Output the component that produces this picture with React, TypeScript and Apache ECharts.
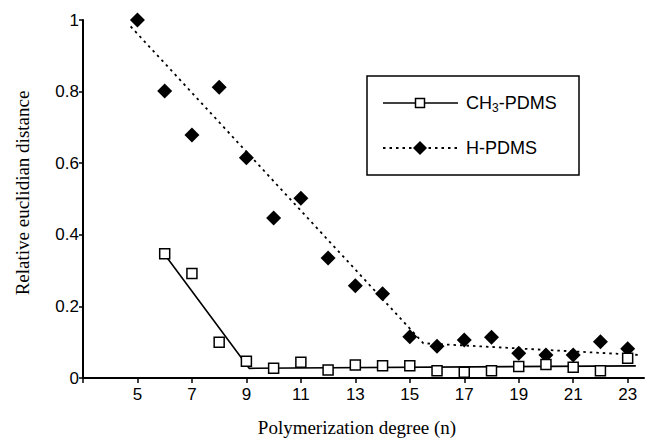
import React, { useEffect, useRef } from "react";
import * as echarts from "echarts";

// Polymerization degree (n)
const ch3Degrees = [6, 7, 8, 9, 10, 11, 12, 13, 14, 15, 16, 17, 18, 19, 20, 21, 22, 23];
const ch3Values = [0.347, 0.292, 0.1, 0.047, 0.027, 0.044, 0.022, 0.036, 0.034, 0.034, 0.02, 0.016, 0.02, 0.032, 0.038, 0.03, 0.02, 0.055];
const hDegrees = [5, 6, 7, 8, 9, 10, 11, 12, 13, 14, 15, 16, 17, 18, 19, 20, 21, 22, 23];
const hValues = [1.0, 0.802, 0.679, 0.812, 0.615, 0.447, 0.502, 0.335, 0.258, 0.235, 0.115, 0.089, 0.106, 0.114, 0.069, 0.064, 0.064, 0.101, 0.082];

// piecewise trend lines
const ch3TrendX = [6, 9.1, 23.3];
const ch3TrendY = [0.345, 0.027, 0.034];
const hTrendX = [4.75, 15.5, 23.5];
const hTrendY = [0.982, 0.097, 0.064];

const yTicks = [0, 0.2, 0.4, 0.6, 0.8, 1];

const pairs = (xs: number[], ys: number[]) => xs.map((x, i) => [x, ys[i]]);

export default function App() {
  const ref = useRef<HTMLDivElement>(null);
  useEffect(() => {
    document.body.style.margin = "0";
    const chart = echarts.init(ref.current!, null, { renderer: "svg" });
    const sans = "Liberation Sans, Arial, sans-serif";
    const serif = "Liberation Serif, Times New Roman, serif";
    chart.setOption({
      animation: false,
      backgroundColor: "#fff",
      grid: { left: 83, right: 1, top: 20, bottom: 63 },
      xAxis: {
        type: "value",
        min: 3,
        max: 23.6,
        interval: 2,
        axisLine: { lineStyle: { color: "#000", width: 2 } },
        axisTick: { show: true, length: 5, lineStyle: { color: "#000", width: 1.5 } },
        axisLabel: {
          color: "#000",
          fontFamily: sans,
          fontSize: 17,
          margin: 8,
          showMaxLabel: false,
          formatter: (v: number) => (v === 3 ? "" : String(v)),
        },
        splitLine: { show: false },
      },
      yAxis: {
        type: "value",
        min: 0,
        max: 1,
        interval: 0.2,
        axisLine: { show: true, lineStyle: { color: "#000", width: 2 } },
        axisTick: { show: true, length: 4, lineStyle: { color: "#000", width: 1.5 } },
        axisLabel: {
          color: "#000",
          fontFamily: sans,
          fontSize: 17,
          margin: 4,
          formatter: (v: number) => {
            const t = yTicks.find((k) => Math.abs(k - v) < 1e-9);
            if (t === undefined) return "";
            return t === 0 || t === 1 ? String(t) : t.toFixed(1);
          },
        },
        splitLine: { show: false },
      },
      series: [
        {
          type: "line",
          data: pairs(hTrendX, hTrendY),
          showSymbol: false,
          symbol: "none",
          lineStyle: { color: "#000", width: 1.8, type: [2.5, 4] },
          z: 1,
        },
        {
          type: "line",
          data: pairs(ch3TrendX, ch3TrendY),
          showSymbol: false,
          symbol: "none",
          lineStyle: { color: "#000", width: 1.6, type: "solid" },
          z: 1,
        },
        {
          type: "scatter",
          data: pairs(hDegrees, hValues),
          symbol: "diamond",
          symbolSize: [15, 15],
          itemStyle: { color: "#000", opacity: 1 },
          z: 3,
        },
        {
          type: "scatter",
          data: pairs(ch3Degrees, ch3Values),
          symbol: "rect",
          symbolSize: 10,
          itemStyle: { color: "#fff", borderColor: "#000", borderWidth: 1.5, opacity: 1 },
          z: 4,
        },
      ],
      graphic: [
        {
          type: "rect",
          shape: { x: 367, y: 76, width: 212, height: 99 },
          style: { fill: "#fff", stroke: "#000", lineWidth: 1.5 },
          z: 10,
        },
        {
          type: "line",
          shape: { x1: 383, y1: 103, x2: 458, y2: 103 },
          style: { stroke: "#000", lineWidth: 1.6 },
          z: 11,
        },
        {
          type: "rect",
          shape: { x: 415.5, y: 98.5, width: 9, height: 9 },
          style: { fill: "#fff", stroke: "#000", lineWidth: 1.5 },
          z: 12,
        },
        {
          type: "line",
          shape: { x1: 383, y1: 148, x2: 458, y2: 148 },
          style: { stroke: "#000", lineWidth: 1.8, lineDash: [2.5, 4] },
          z: 11,
        },
        {
          type: "polygon",
          shape: { points: [[420, 141], [427, 148], [420, 155], [413, 148]] },
          style: { fill: "#000" },
          z: 12,
        },
        {
          type: "text",
          x: 466,
          y: 103,
          z: 12,
          style: {
            text: "{a|CH}{s|3}{a|-PDMS}",
            verticalAlign: "middle",
            rich: {
              a: { fontFamily: sans, fontSize: 18, fill: "#000" },
              s: { fontFamily: sans, fontSize: 12, fill: "#000", padding: [10, 0, 0, 0] },
            },
          },
        },
        {
          type: "text",
          x: 466,
          y: 148,
          z: 12,
          style: {
            text: "H-PDMS",
            fontFamily: sans,
            fontSize: 18,
            fill: "#000",
            verticalAlign: "middle",
          },
        },
        {
          type: "text",
          x: 357,
          y: 427,
          style: {
            text: "Polymerization degree (n)",
            fontFamily: serif,
            fontSize: 19,
            fill: "#000",
            align: "center",
            verticalAlign: "middle",
          },
        },
        {
          type: "text",
          x: 22,
          y: 193,
          rotation: Math.PI / 2,
          style: {
            text: "Relative euclidian distance",
            fontFamily: serif,
            fontSize: 19,
            fill: "#000",
            align: "center",
            verticalAlign: "middle",
          },
        },
      ],
    });
    return () => chart.dispose();
  }, []);
  return <div ref={ref} style={{ width: 645, height: 441 }} />;
}
